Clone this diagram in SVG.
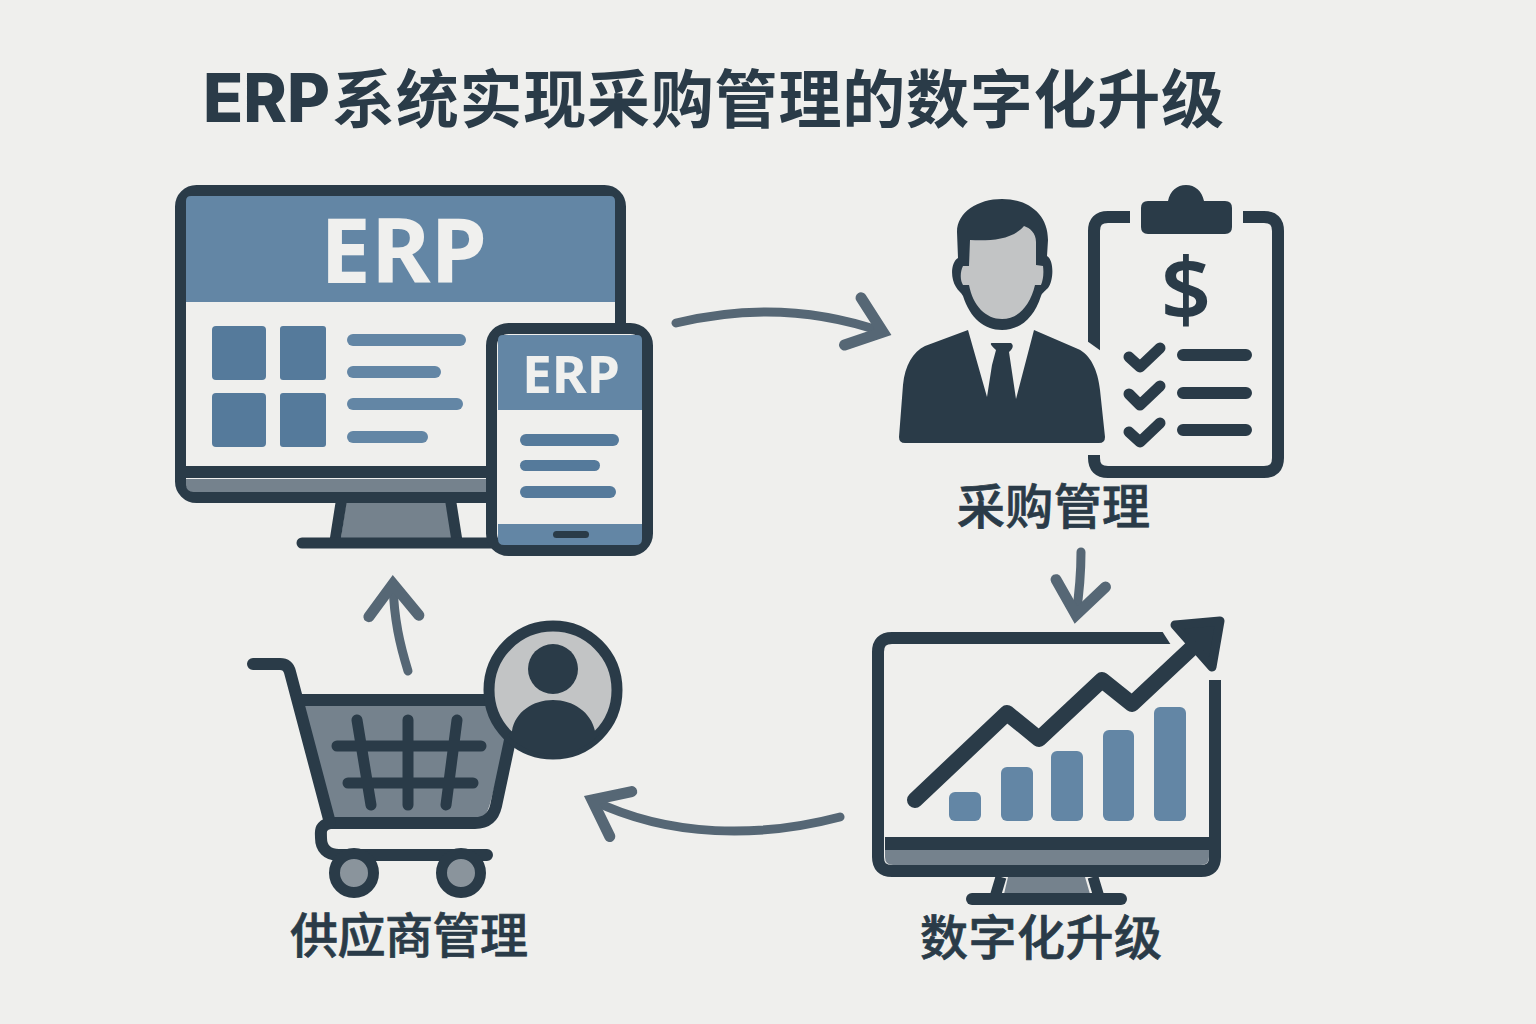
<svg xmlns="http://www.w3.org/2000/svg" width="1536" height="1024" viewBox="0 0 1536 1024">
<style>
.dk{fill:#2a3b48}
.ln{fill:none;stroke:#2a3b48;stroke-linecap:round;stroke-linejoin:round}
.bt{stroke-linecap:butt}
.blue{fill:#6386a5}
.blue2{fill:#557a9b}
.grey{fill:#75828d}
.paper{fill:#efefed}
.lt{fill:#c2c4c5}
.conn{fill:none;stroke:#566775;stroke-width:9;stroke-linecap:round}
.cjk{font-family:"Noto Sans CJK SC","Noto Sans",sans-serif;fill:#2a3b48;stroke:#2a3b48;stroke-width:0.7;font-weight:500;font-size:48px}
.erp{font-family:"Noto Sans","Open Sans",sans-serif;font-weight:700;fill:#f0f0ee}
.ttl{font-family:"Noto Sans CJK SC","Noto Sans",sans-serif;font-weight:700;fill:#2a3b48}
</style>
<defs>
<marker id="head" markerUnits="userSpaceOnUse" viewBox="-45 -35 55 70" refX="0" refY="0" markerWidth="55" markerHeight="70" orient="auto">
<path d="M-32,-25 L0,0 L-32,25" fill="none" stroke="#566775" stroke-width="11" stroke-linecap="round" stroke-linejoin="miter"/>
</marker>
</defs>
<rect width="1536" height="1024" fill="#efefed"/>

<g id="title">
<text x="203" y="122" font-family="Inter,'Liberation Sans',sans-serif" font-weight="800" font-size="67" fill="#2a3b48" textLength="127" lengthAdjust="spacingAndGlyphs">ERP</text>
<text class="ttl" x="332" y="122" font-size="63" textLength="892" lengthAdjust="spacing">系统实现采购管理的数字化升级</text>
</g>

<g id="connectors">
<path class="conn" marker-end="url(#head)" d="M676,323 C750,305 820,310 883,332"/>
<path class="conn" marker-end="url(#head)" d="M1081,552 C1081,575 1079,595 1076,615"/>
<path class="conn" marker-end="url(#head)" d="M408,671 C400,645 394,620 393,584"/>
<path class="conn" marker-end="url(#head)" d="M840,817 C760,838 670,838 592,800"/>
</g>

<g id="node-erp">
<path class="grey" d="M346,503 H446 L452,538 H341 Z"/>
<path class="ln" stroke-width="11" d="M341,503 L335,541 M451,503 L457,541"/>
<path class="ln" stroke-width="11" d="M302,543 H500"/>
<rect x="180.500" y="190.500" width="440" height="307" rx="16" fill="#efefed" stroke="#2a3b48" stroke-width="11"/>
<path class="blue" d="M186,302 V201 Q186,196 191,196 H610 Q615,196 615,201 V302 Z"/>
<path class="dk" d="M186,466 H615 V478 H186 Z"/>
<path class="grey" d="M186,479 H615 V492 H194 Q186,492 186,484 Z"/>
<g class="blue2">
<rect x="212" y="326" width="54" height="54" rx="4"/>
<rect x="280" y="326" width="46" height="54" rx="3"/>
<rect x="212" y="393" width="54" height="54" rx="4"/>
<rect x="280" y="393" width="46" height="54" rx="3"/>
</g>
<g class="blue">
<rect x="347" y="334" width="119" height="12" rx="6"/>
<rect x="347" y="366" width="94" height="12" rx="6"/>
<rect x="347" y="398" width="116" height="12" rx="6"/>
<rect x="347" y="431" width="81" height="12" rx="6"/>
</g>
<text class="erp" x="320" y="283" font-size="90" textLength="167" lengthAdjust="spacingAndGlyphs">ERP</text>
<rect x="491.500" y="328.500" width="156" height="222" rx="17" fill="#efefed" stroke="#2a3b48" stroke-width="11"/>
<path class="blue" d="M498,410 V340 Q498,335 503,335 H637 Q642,335 642,340 V410 Z"/>
<path class="blue" d="M498,524 H642 V539 Q642,545 636,545 H504 Q498,545 498,539 Z"/>
<rect class="dk" x="553" y="531" width="36" height="7" rx="3.500"/>
<g class="blue2">
<rect x="520" y="434" width="99" height="12" rx="6"/>
<rect x="520" y="460" width="80" height="11" rx="5.500"/>
<rect x="520" y="486" width="96" height="12" rx="6"/>
</g>
<text class="erp" x="522" y="393" font-size="52" textLength="98" lengthAdjust="spacingAndGlyphs">ERP</text>
</g>

<g id="node-purchase">
<path class="ln bt" stroke-width="12" d="M1130,217 H1108 Q1094,217 1094,231 V352"/>
<path class="paper" d="M1087,341 L1101,351 L1101,354 L1087,354 Z"/>
<path class="ln bt" stroke-width="12" d="M1094,455 V458 Q1094,472 1108,472 H1264 Q1278,472 1278,458 V231 Q1278,217 1264,217 H1243"/>
<path class="dk" d="M1168,201 C1170,191 1177,185 1186,185 C1195,185 1202,191 1204,201 H1225 Q1232,201 1232,208 V227 Q1232,234 1225,234 H1148 Q1141,234 1141,227 V208 Q1141,201 1148,201 Z"/>
<text x="1186" y="321" font-family="'Noto Sans',sans-serif" font-size="88" font-weight="600" fill="#2a3b48" text-anchor="middle">$</text>
<path class="ln" stroke-width="11" d="M1129,357 L1140,367 L1160,348 M1129,394 L1140,405 L1160,386 M1129,432 L1140,442 L1160,423"/>
<path class="ln" stroke-width="12" d="M1183,355 H1246 M1183,393 H1246 M1183,430 H1246"/>
<path class="dk" d="M957,232 C957,212 978,199 1002,199 C1028,199 1048,214 1048,240 L1047,256 C1054,260 1054,280 1048,288 C1044,292 1042,293 1041,296 C1034,318 1020,330 1002,330 C984,330 970,318 963,296 C961,292 958,291 956,287 C950,278 951,262 958,258 Z"/>
<path class="lt" d="M970,240 C990,241 1012,240 1024,226 C1030,228 1036,233 1036,242 L1036,265 L1043,266 C1044,274 1043,280 1041,285 L1035,285 C1030,306 1018,319 1002,319 C986,319 973,306 969,285 L963,285 C960,280 960,272 963,266 L969,266 Z"/>
<path class="dk" d="M968,330 L987,397 L992,365 L996,350 C990,345 990,343 992,343 L1011,343 C1014,345 1013,349 1009,352 L1016,399 L1034,330 L1078,349 C1090,354 1098,370 1100,390 L1105,437 Q1105,443 1099,443 H905 Q899,443 899,437 L903,385 C905,365 913,352 925,346 Z"/>
<text class="cjk" x="957" y="524" textLength="193">采购管理</text>
</g>

<g id="node-supplier">
<path class="grey" d="M303,704 H490 L507,740 L491,800 Q486,822 472,822 H334 Z"/>
<path class="ln" stroke-width="12" d="M253,664 H280 Q288,664 290,672 L330,823 H475 Q492,823 496,806 L510,740"/>
<path class="ln bt" stroke-width="12" d="M298,700 H495"/>
<path class="ln" stroke-width="11" d="M357,720 L371,805 M408,720 V805 M457,720 L446,805 M337,746 H481 M348,783 H473"/>
<path class="ln" stroke-width="12" d="M330,823 C319,826 321,832 321,838 C321,848 327,855 339,855 H487"/>
<circle cx="354" cy="873" r="19.500" fill="#8a949c" stroke="#2a3b48" stroke-width="11"/>
<circle cx="461" cy="873" r="19.500" fill="#8a949c" stroke="#2a3b48" stroke-width="11"/>
<circle cx="553" cy="690" r="64" class="lt" stroke="#2a3b48" stroke-width="11"/>
<circle cx="553" cy="669" r="25" class="dk"/>
<path class="dk" d="M512,731 C515,712 533,700 553,700 C573,700 591,712 595,731 L599,735 A64,64 0 0 1 507,735 Z"/>
<text class="cjk" x="290" y="953" textLength="238">供应商管理</text>
</g>

<g id="node-digital">
<path class="grey" d="M1008,877 H1085 L1090,894 H1004 Z"/>
<path class="ln bt" stroke-width="11" d="M1001,877 L995,897 M1093,877 L1099,897"/>
<path class="ln" stroke-width="12" d="M972,899 H1121"/>
<path class="ln bt" stroke-width="12" d="M1174,638 H892 Q878,638 878,652 V857 Q878,871 892,871 H1201 Q1215,871 1215,857 V680"/>
<path class="dk" d="M885,837 H1209 V850 H885 Z"/>
<path class="grey" d="M885,850 H1209 V857 Q1209,865 1201,865 H893 Q885,865 885,857 Z"/>
<g class="blue">
<rect x="949" y="792" width="32" height="29" rx="6"/>
<rect x="1001" y="767" width="32" height="54" rx="6"/>
<rect x="1051" y="751" width="32" height="70" rx="6"/>
<rect x="1103" y="730" width="31" height="91" rx="6"/>
<rect x="1154" y="707" width="32" height="114" rx="6"/>
</g>
<path class="paper" d="M1162,631 L1176,631 L1176,645 L1171,645 Z"/>
<path class="ln" stroke-width="16" d="M915,800 L1007,713 L1039,739 L1102,680 L1132,704 L1195,645"/>
<path class="dk" stroke="#2a3b48" stroke-width="9" stroke-linejoin="round" d="M1175,625 L1220,621 L1212,667 Z"/>
<text class="cjk" x="920" y="955" textLength="242">数字化升级</text>
</g>
</svg>
